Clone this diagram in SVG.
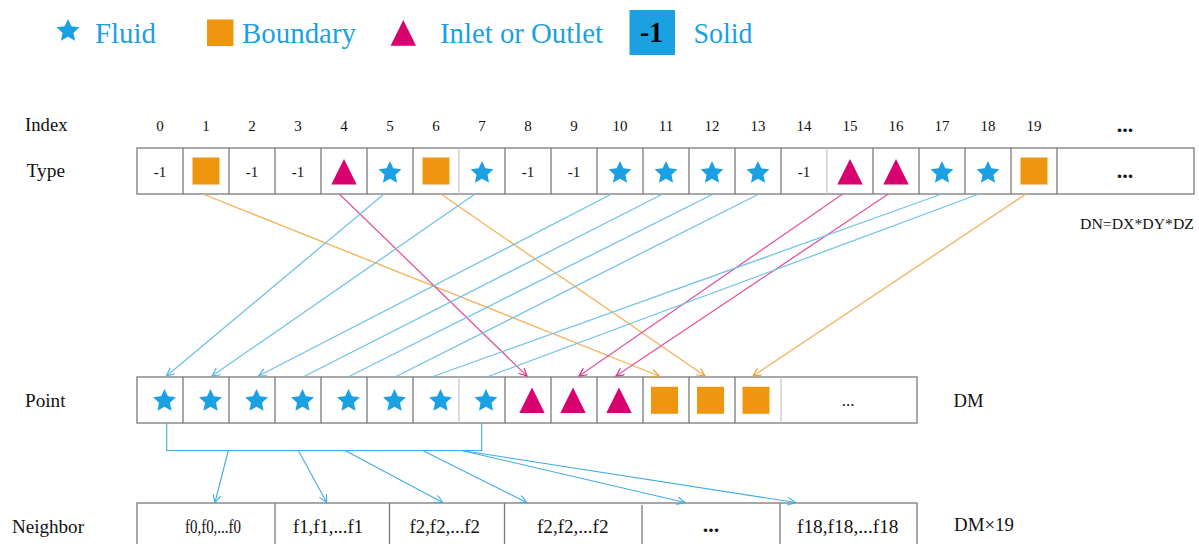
<svg xmlns="http://www.w3.org/2000/svg" xmlns:xlink="http://www.w3.org/1999/xlink" width="1199" height="544" viewBox="0 0 1199 544">
  <style>
    .serif { font-family: "Liberation Serif", "DejaVu Serif", "Noto Serif", "Times New Roman", serif; }
    .lbl { font-family: "Liberation Serif", "DejaVu Serif", "Noto Serif", "Times New Roman", serif; font-size: 19px; fill: #111; }
    .num { font-family: "Liberation Serif", "DejaVu Serif", "Noto Serif", "Times New Roman", serif; font-size: 15px; fill: #111; text-anchor: middle; }
    .dots { font-family: "Liberation Serif", "DejaVu Serif", "Noto Serif", "Times New Roman", serif; font-size: 22px; font-weight: bold; fill: #111; text-anchor: middle; }
    .leg { font-family: "Liberation Serif", "DejaVu Serif", "Noto Serif", "Times New Roman", serif; font-size: 29px; fill: #1BA1E2; }
    .cell { fill: #fff; stroke: #7a7a7a; stroke-width: 1.3; }
    .fluid { fill: #1BA1E2; }
    .bnd { fill: #F0960E; }
    .io { fill: #D9006F; }
    .c-blue { stroke: #72C2EA; stroke-width: 1.3; fill: none; }
    .c-org { stroke: #F2B25A; stroke-width: 1.3; fill: none; }
    .c-pink { stroke: #E0579E; stroke-width: 1.3; fill: none; }
    .c-nb { stroke: #3FACE4; stroke-width: 1.1; fill: none; }
  </style>
  <defs>
    <path id="star" d="M0,-12 L3.41,-4.69 L11.41,-3.71 L5.52,1.79 L7.05,9.71 L0,5.8 L-7.05,9.71 L-5.52,1.79 L-11.41,-3.71 L-3.41,-4.69 Z"/>
    <path id="tri" d="M0,-12.7 L12.7,12.7 L-12.7,12.7 Z"/>
    <rect id="sq" x="-13.5" y="-13.5" width="27" height="27"/>
    <marker id="ah-blue" markerUnits="userSpaceOnUse" markerWidth="10" markerHeight="10" refX="8" refY="4" orient="auto">
      <path d="M0,0 L8,4 L0,8" fill="none" stroke="#4FB4E6" stroke-width="1.2"/>
    </marker>
    <marker id="ah-org" markerUnits="userSpaceOnUse" markerWidth="10" markerHeight="10" refX="8" refY="4" orient="auto">
      <path d="M0,0 L8,4 L0,8" fill="none" stroke="#F0A030" stroke-width="1.2"/>
    </marker>
    <marker id="ah-pink" markerUnits="userSpaceOnUse" markerWidth="10" markerHeight="10" refX="8" refY="4" orient="auto">
      <path d="M0,0 L8,4 L0,8" fill="none" stroke="#DA3088" stroke-width="1.2"/>
    </marker>
    <marker id="ah-nb" markerUnits="userSpaceOnUse" markerWidth="10" markerHeight="10" refX="8" refY="4" orient="auto">
      <path d="M0,0 L8,4 L0,8" fill="none" stroke="#3FACE4" stroke-width="1.1"/>
    </marker>
  </defs>

  <rect width="1199" height="544" fill="#fff"/>

  <!-- legend -->
  <g id="legend">
    <use href="#star" x="68" y="31" class="fluid"/>
    <text class="leg" x="95" y="43" textLength="61" lengthAdjust="spacingAndGlyphs">Fluid</text>
    <rect class="bnd" x="207" y="19.5" width="26.5" height="26.5"/>
    <text class="leg" x="242" y="43" textLength="114" lengthAdjust="spacingAndGlyphs">Boundary</text>
    <path class="io" d="M403.3,20 L416,45.7 L390.6,45.7 Z"/>
    <text class="leg" x="440" y="43" textLength="163" lengthAdjust="spacingAndGlyphs">Inlet or Outlet</text>
    <rect class="fluid" x="629.5" y="10" width="45.5" height="45"/>
    <text class="serif" x="640" y="42" font-size="29" font-weight="bold" fill="#000" textLength="23" lengthAdjust="spacingAndGlyphs">-1</text>
    <text class="leg" x="693.5" y="43" textLength="59" lengthAdjust="spacingAndGlyphs">Solid</text>
  </g>

  <!-- row labels -->
  <g id="labels">
    <text class="lbl" x="25" y="131" textLength="42.5" lengthAdjust="spacingAndGlyphs">Index</text>
    <text class="lbl" x="26.5" y="177" textLength="38.5" lengthAdjust="spacingAndGlyphs">Type</text>
    <text class="lbl" x="25" y="406.5" textLength="40.5" lengthAdjust="spacingAndGlyphs">Point</text>
    <text class="lbl" x="12" y="533" textLength="72" lengthAdjust="spacingAndGlyphs">Neighbor</text>
    <text class="lbl" x="953.5" y="407" textLength="30" lengthAdjust="spacingAndGlyphs">DM</text>
    <text class="lbl" x="954" y="531" textLength="60" lengthAdjust="spacingAndGlyphs">DM×19</text>
    <text class="serif" x="1080" y="229" font-size="14.6" fill="#111" textLength="114" lengthAdjust="spacingAndGlyphs">DN=DX*DY*DZ</text>
  </g>

  <!-- index numbers -->
  <g id="index">
    <text class="num" x="160" y="131">0</text>
    <text class="num" x="206" y="131">1</text>
    <text class="num" x="252" y="131">2</text>
    <text class="num" x="298" y="131">3</text>
    <text class="num" x="344" y="131">4</text>
    <text class="num" x="390" y="131">5</text>
    <text class="num" x="436" y="131">6</text>
    <text class="num" x="482" y="131">7</text>
    <text class="num" x="528" y="131">8</text>
    <text class="num" x="574" y="131">9</text>
    <text class="num" x="620" y="131">10</text>
    <text class="num" x="666" y="131">11</text>
    <text class="num" x="712" y="131">12</text>
    <text class="num" x="758" y="131">13</text>
    <text class="num" x="804" y="131">14</text>
    <text class="num" x="850" y="131">15</text>
    <text class="num" x="896" y="131">16</text>
    <text class="num" x="942" y="131">17</text>
    <text class="num" x="988" y="131">18</text>
    <text class="num" x="1034" y="131">19</text>
    <text class="dots" x="1125" y="132">...</text>
  </g>

  <!-- type row -->
  <g id="type-row">
    <rect class="cell" x="137" y="148" width="1057" height="46"/>
    <g stroke="#7a7a7a" stroke-width="1.3">
      <line x1="183" y1="148" x2="183" y2="194"/>
      <line x1="229" y1="148" x2="229" y2="194"/>
      <line x1="275" y1="148" x2="275" y2="194"/>
      <line x1="321" y1="148" x2="321" y2="194"/>
      <line x1="367" y1="148" x2="367" y2="194"/>
      <line x1="413" y1="148" x2="413" y2="194"/>
      <line x1="459" y1="148" x2="459" y2="194" stroke="#c8c8c8"/>
      <line x1="505" y1="148" x2="505" y2="194"/>
      <line x1="551" y1="148" x2="551" y2="194"/>
      <line x1="597" y1="148" x2="597" y2="194"/>
      <line x1="643" y1="148" x2="643" y2="194"/>
      <line x1="689" y1="148" x2="689" y2="194"/>
      <line x1="735" y1="148" x2="735" y2="194"/>
      <line x1="781" y1="148" x2="781" y2="194"/>
      <line x1="827" y1="148" x2="827" y2="194" stroke="#c8c8c8"/>
      <line x1="873" y1="148" x2="873" y2="194"/>
      <line x1="919" y1="148" x2="919" y2="194"/>
      <line x1="965" y1="148" x2="965" y2="194"/>
      <line x1="1011" y1="148" x2="1011" y2="194"/>
      <line x1="1057" y1="148" x2="1057" y2="194"/>
    </g>
    <text class="num" x="160" y="177">-1</text>
    <use href="#sq" x="206" y="171" class="bnd"/>
    <text class="num" x="252" y="177">-1</text>
    <text class="num" x="298" y="177">-1</text>
    <use href="#tri" x="344" y="171.7" class="io"/>
    <use href="#star" x="390" y="173" class="fluid"/>
    <use href="#sq" x="436" y="171" class="bnd"/>
    <use href="#star" x="482" y="173" class="fluid"/>
    <text class="num" x="528" y="177">-1</text>
    <text class="num" x="574" y="177">-1</text>
    <use href="#star" x="620" y="173" class="fluid"/>
    <use href="#star" x="666" y="173" class="fluid"/>
    <use href="#star" x="712" y="173" class="fluid"/>
    <use href="#star" x="758" y="173" class="fluid"/>
    <text class="num" x="804" y="177">-1</text>
    <use href="#tri" x="850" y="171.7" class="io"/>
    <use href="#tri" x="896" y="171.7" class="io"/>
    <use href="#star" x="942" y="173" class="fluid"/>
    <use href="#star" x="988" y="173" class="fluid"/>
    <use href="#sq" x="1034" y="171" class="bnd"/>
    <text class="dots" x="1125" y="178">...</text>
  </g>

  <!-- point row -->
  <g id="point-row">
    <rect class="cell" x="137" y="377" width="780" height="46"/>
    <g stroke="#7a7a7a" stroke-width="1.3">
      <line x1="183" y1="377" x2="183" y2="423"/>
      <line x1="229" y1="377" x2="229" y2="423"/>
      <line x1="275" y1="377" x2="275" y2="423"/>
      <line x1="321" y1="377" x2="321" y2="423"/>
      <line x1="367" y1="377" x2="367" y2="423"/>
      <line x1="413" y1="377" x2="413" y2="423"/>
      <line x1="459" y1="377" x2="459" y2="423" stroke="#c8c8c8"/>
      <line x1="505" y1="377" x2="505" y2="423"/>
      <line x1="551" y1="377" x2="551" y2="423"/>
      <line x1="597" y1="377" x2="597" y2="423"/>
      <line x1="643" y1="377" x2="643" y2="423"/>
      <line x1="689" y1="377" x2="689" y2="423"/>
      <line x1="735" y1="377" x2="735" y2="423"/>
      <line x1="781" y1="377" x2="781" y2="423" stroke="#c8c8c8"/>
    </g>
    <use href="#star" x="164.5" y="401" class="fluid"/>
    <use href="#star" x="210.5" y="401" class="fluid"/>
    <use href="#star" x="256.5" y="401" class="fluid"/>
    <use href="#star" x="302.5" y="401" class="fluid"/>
    <use href="#star" x="348.5" y="401" class="fluid"/>
    <use href="#star" x="394.5" y="401" class="fluid"/>
    <use href="#star" x="440.5" y="401" class="fluid"/>
    <use href="#star" x="486" y="401" class="fluid"/>
    <use href="#tri" x="532" y="400.3" class="io"/>
    <use href="#tri" x="573" y="400.3" class="io"/>
    <use href="#tri" x="619" y="400.3" class="io"/>
    <use href="#sq" x="664.5" y="400.3" class="bnd"/>
    <use href="#sq" x="710.5" y="400.3" class="bnd"/>
    <use href="#sq" x="756" y="400.3" class="bnd"/>
    <text class="serif" x="848" y="406" font-size="17" fill="#111" text-anchor="middle">...</text>
  </g>

  <!-- neighbor row -->
  <g id="neighbor-row">
    <rect class="cell" x="137" y="503" width="780" height="50"/>
    <g stroke="#7a7a7a" stroke-width="1.3">
      <line x1="275" y1="503" x2="275" y2="544"/>
      <line x1="389.5" y1="503" x2="389.5" y2="544"/>
      <line x1="504.5" y1="503" x2="504.5" y2="544"/>
      <line x1="642" y1="505" x2="642" y2="544"/>
      <line x1="780" y1="503" x2="780" y2="544"/>
    </g>
    <text class="lbl" x="185" y="533" textLength="56" lengthAdjust="spacingAndGlyphs">f0,f0,...f0</text>
    <text class="lbl" x="293" y="533" textLength="70" lengthAdjust="spacingAndGlyphs">f1,f1,...f1</text>
    <text class="lbl" x="409.5" y="533" textLength="70.5" lengthAdjust="spacingAndGlyphs">f2,f2,...f2</text>
    <text class="lbl" x="537" y="533" textLength="71.5" lengthAdjust="spacingAndGlyphs">f2,f2,...f2</text>
    <text class="dots" x="711" y="532">...</text>
    <text class="lbl" x="797" y="533" textLength="101.5" lengthAdjust="spacingAndGlyphs">f18,f18,...f18</text>
  </g>

  <!-- connectors -->
  <g id="connectors">
    <!-- boundary cells to point slots -->
    <line class="c-org" x1="202.7" y1="194" x2="659" y2="376" marker-end="url(#ah-org)"/>
    <line class="c-org" x1="440.7" y1="194" x2="705" y2="376" marker-end="url(#ah-org)"/>
    <line class="c-org" x1="1026" y1="194" x2="753" y2="376" marker-end="url(#ah-org)"/>
    <!-- inlet / outlet cells -->
    <line class="c-pink" x1="339.3" y1="194" x2="527" y2="376" marker-end="url(#ah-pink)"/>
    <line class="c-pink" x1="842.7" y1="194" x2="579" y2="376" marker-end="url(#ah-pink)"/>
    <line class="c-pink" x1="888.3" y1="194" x2="616" y2="376" marker-end="url(#ah-pink)"/>
    <!-- fluid cells -->
    <line class="c-blue" x1="384" y1="194" x2="166.5" y2="376" marker-end="url(#ah-blue)"/>
    <line class="c-blue" x1="475" y1="194" x2="212" y2="376" marker-end="url(#ah-blue)"/>
    <line class="c-blue" x1="611.7" y1="194" x2="258.5" y2="376" marker-end="url(#ah-blue)"/>
    <line class="c-blue" x1="662.7" y1="194" x2="303" y2="377"/>
    <line class="c-blue" x1="713.3" y1="194" x2="348" y2="377"/>
    <line class="c-blue" x1="759" y1="194" x2="395" y2="377"/>
    <line class="c-blue" x1="941.7" y1="194" x2="431.7" y2="377"/>
    <line class="c-blue" x1="979" y1="194" x2="486.7" y2="377"/>

    <!-- fluid points gathered into the neighbor lists -->
    <polyline class="c-nb" points="166.7,423 166.7,450.5 481.7,450.5 481.7,423"/>
    <line class="c-nb" x1="228.3" y1="450.5" x2="215" y2="502.5" marker-end="url(#ah-nb)"/>
    <line class="c-nb" x1="298.3" y1="450.5" x2="326.7" y2="502.5" marker-end="url(#ah-nb)"/>
    <line class="c-nb" x1="345" y1="450.5" x2="442.7" y2="502.5" marker-end="url(#ah-nb)"/>
    <line class="c-nb" x1="422.7" y1="450.5" x2="526.7" y2="502.5" marker-end="url(#ah-nb)"/>
    <line class="c-nb" x1="461.7" y1="450.5" x2="685" y2="502.5" marker-end="url(#ah-nb)"/>
    <line class="c-nb" x1="461.7" y1="450.5" x2="795.5" y2="502.5" marker-end="url(#ah-nb)"/>
  </g>
</svg>
